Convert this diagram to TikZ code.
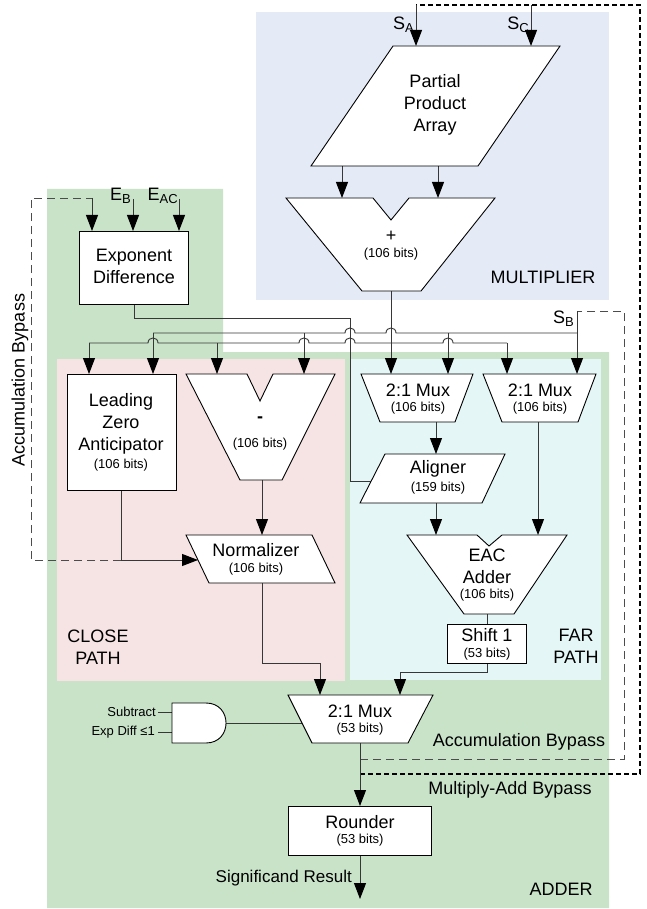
\documentclass[tikz,border=0pt]{standalone}
\usepackage{fontspec}
\setmainfont{Liberation Sans}
\usetikzlibrary{arrows.meta}
\definecolor{multbg}{RGB}{228,235,247}
\definecolor{addbg}{RGB}{201,227,201}
\definecolor{closebg}{RGB}{245,228,227}
\definecolor{farbg}{RGB}{228,246,246}
\definecolor{wirec}{RGB}{55,55,55}
% a wire that jumps over a crossing vertical wire at x=#1 on the line y=#2
\newcommand\hopat[2]{-- ({#1-5},#2) .. controls ({#1-5},{#2-6.7}) and ({#1+5},{#2-6.7}) .. ({#1+5},#2)}
\newcommand\subs[1]{\raisebox{-3pt}{\fontsize{13}{13}\selectfont #1}}

\begin{document}
\begin{tikzpicture}[x=1pt,y=-1pt,
  wire/.style={draw=wirec,line width=0.9pt},
  arr/.style={-{Triangle[length=16pt,width=12pt,color=black]}},
  blk/.style={draw=black,fill=white,line width=0.9pt,line join=miter},
  big/.style={font=\fontsize{18}{22}\selectfont,inner sep=0pt,align=center},
  sml/.style={font=\fontsize{13}{15}\selectfont,inner sep=0pt,align=center},
  accbyp/.style={draw=black!70,line width=0.9pt,dash pattern=on 8pt off 5pt},
  madbyp/.style={draw=black,line width=2pt,dash pattern=on 5pt off 3pt},
]
\useasboundingbox (0,0) rectangle (646,909);

% ---------- regions ----------
\fill[multbg] (256,12) rectangle (609,300);
\fill[addbg] (47,189) -- (223,189) -- (223,352) -- (609,352) -- (609,908) -- (47,908) -- cycle;
\fill[closebg] (57,359) rectangle (345,681);
\fill[farbg] (350,359) rectangle (601,680);

% ---------- ports ----------
\coordinate (sa-top) at (416,5);   \coordinate (sa-in) at (416,46);
\coordinate (sc-top) at (531,5);   \coordinate (sc-in) at (531,46);
\coordinate (ppa-o1) at (342,166); \coordinate (mul-i1) at (342,198);
\coordinate (ppa-o2) at (438,166); \coordinate (mul-i2) at (438,198);
\coordinate (mul-o) at (391,291);
\coordinate (muxa-i1) at (391,374); \coordinate (muxa-i2) at (448,374);
\coordinate (muxb-i1) at (507,374); \coordinate (muxb-i2) at (577,374);
\coordinate (muxa-o) at (436,422);  \coordinate (aln-i) at (436,454);
\coordinate (aln-o) at (436,503);   \coordinate (eac-i1) at (436,535);
\coordinate (muxb-o) at (538,422);  \coordinate (eac-i2) at (538,535);
\coordinate (aln-side) at (371,481);
\coordinate (eac-o) at (487,614);   \coordinate (sh-i) at (487,624);
\coordinate (sh-o) at (487,663);
\coordinate (mux53-i1) at (320,695); \coordinate (mux53-i2) at (400,695);
\coordinate (mux53-o) at (360,743);  \coordinate (mux53-side) at (302,723);
\coordinate (rnd-i) at (360,806);    \coordinate (rnd-o) at (360,855);
\coordinate (result) at (360,899);
\coordinate (ed-o) at (134,304);
\coordinate (ed-i0) at (92,231); \coordinate (ed-i1) at (133,231); \coordinate (ed-i2) at (179,231);
\coordinate (eb-src) at (133,199); \coordinate (eac-src) at (179,199);
\coordinate (lza-i1) at (89,374);  \coordinate (lza-i2) at (153,374);
\coordinate (lza-o) at (121,490);
\coordinate (sub-i1) at (217,374); \coordinate (sub-i2) at (304,374);
\coordinate (sub-o) at (262,480);
\coordinate (nrm-i) at (262,535);  \coordinate (nrm-side) at (198,560);
\coordinate (nrm-o) at (262,583);
\coordinate (lza-join) at (121,560);
\coordinate (and-o) at (226,723);
\coordinate (and-i1) at (172,712); \coordinate (and-i2) at (172,732);
\coordinate (sub-src) at (158,712); \coordinate (exp-src) at (158,732);
\coordinate (sb-corner) at (577,311);
\coordinate (byp-tap) at (360,759);
\coordinate (mad-tap) at (360,774);

% ---------- bypass loops ----------
\draw[madbyp] (mad-tap) -- (640,774) -- (640,5) -- (sa-top);
\draw[wire,arr] (sa-top) -- (sa-in);
\draw[wire,arr] (sc-top) -- (sc-in);
\draw[accbyp] (byp-tap) -- (624,759) -- (624,311) -- (sb-corner);
\draw[wire,arr] (sb-corner) -- (muxb-i2);
\draw[accbyp] (lza-join) -- (31,560) -- (31,198) -- (92,198);
\draw[wire,arr] (92,198) -- (ed-i0);

% ---------- buses ----------
\draw[wire] (ed-o) -- (134,318) -- (350,318) -- (350,481) -- (aln-side);
\draw[wire,arr] (mul-o) -- (muxa-i1);
\draw[wire] (153,333) \hopat{350}{333} \hopat{391}{333} -- (577,333);
\draw[wire,arr] (153,333) -- (lza-i2);
\draw[wire,arr] (304,333) -- (sub-i2);
\draw[wire,arr] (448,333) -- (muxa-i2);
\draw[wire] (89,343) \hopat{153}{343} \hopat{304}{343} \hopat{350}{343} \hopat{448}{343} -- (507,343);
\draw[wire,arr] (89,343) -- (lza-i1);
\draw[wire,arr] (217,343) -- (sub-i1);
\draw[wire,arr] (507,343) -- (muxb-i1);

% ---------- other connectors ----------
\draw[wire,arr] (ppa-o1) -- (mul-i1);
\draw[wire,arr] (ppa-o2) -- (mul-i2);
\draw[wire,arr] (eb-src) -- (ed-i1);
\draw[wire,arr] (eac-src) -- (ed-i2);
\draw[wire,arr] (muxa-o) -- (aln-i);
\draw[wire,arr] (aln-o) -- (eac-i1);
\draw[wire,arr] (muxb-o) -- (eac-i2);
\draw[wire] (eac-o) -- (sh-i);
\draw[wire,arr] (sh-o) -- (487,672) -- (400,672) -- (mux53-i2);
\draw[wire,arr] (sub-o) -- (nrm-i);
\draw[wire,arr] (nrm-o) -- (262,663) -- (320,663) -- (mux53-i1);
\draw[wire] (lza-o) -- (lza-join);
\draw[wire,arr] (lza-join) -- (nrm-side);
\draw[wire,arr] (mux53-o) -- (rnd-i);
\draw[wire,arr] (rnd-o) -- (result);
\draw[wire] (and-o) -- (mux53-side);
\draw[wire] (sub-src) -- (and-i1);
\draw[wire] (exp-src) -- (and-i2);

% ---------- blocks ----------
\draw[blk] (393,46) -- (560,46) -- (478,166) -- (311,166) -- cycle;
\draw[blk] (286,198) -- (373,198) -- (391,220) -- (409,198) -- (495,198) -- (421,291) -- (362,291) -- cycle;
\draw[blk] (79,231) rectangle (188,304);
\draw[blk] (67,374) rectangle (176,490);
\draw[blk] (186,374) -- (247,374) -- (260,401) -- (273,374) -- (335,374) -- (282,480) -- (240,480) -- cycle;
\draw[blk] (186,535) -- (312,535) -- (335,583) -- (209,583) -- cycle;
\draw[blk] (361,374) -- (473,374) -- (455,422) -- (380,422) -- cycle;
\draw[blk] (483,374) -- (596,374) -- (578,422) -- (502,422) -- cycle;
\draw[blk] (385,454) -- (505,454) -- (482,503) -- (360,503) -- cycle;
\draw[blk] (407,535) -- (477,535) -- (489,546) -- (502,535) -- (567,535) -- (514,614) -- (464,614) -- cycle;
\draw[blk] (447,624) rectangle (526,663);
\draw[blk] (288,695) -- (433,695) -- (408,743) -- (312,743) -- cycle;
\draw[blk] (288,806) rectangle (431,855);
\draw[blk] (172,703) -- (206,703) .. controls (232.7,703) and (232.7,743) .. (206,743) -- (172,743) -- cycle;

% ---------- texts ----------
\node[big] (ppatxt) at (435,105) {Partial\\Product\\Array};
\node[big] (mulop) at (391,236) {+};
\node[sml] (mulbits) at (391,254) {(106 bits)};
\node[big] (multlbl) at (543,277) {MULTIPLIER};
\node[big,anchor=east] (salbl) at (414,25) {S\subs{A}};
\node[big,anchor=east] (sclbl) at (529,25) {S\subs{C}};
\node[big,anchor=east] (eblbl) at (131,196) {E\subs{B}};
\node[big,anchor=east] (eaclbl) at (178,196) {E\subs{AC}};
\node[big,anchor=east] (sblbl) at (574,319) {S\subs{B}};
\node[big] (edtxt) at (134,266.5) {Exponent\\Difference};
\node[big] (lzatxt) at (121,424) {Leading\\Zero\\Anticipator};
\node[sml] (lzabits) at (121,465) {(106 bits)};
\node[big] (subop) at (260,420) {\textbf{-}};
\node[sml] (subbits) at (260,444) {(106 bits)};
\node[big] (nrmtxt) at (256,550) {Normalizer};
\node[sml] (nrmbits) at (256,569) {(106 bits)};
\node[big] (muxatxt) at (418,390) {2:1 Mux};
\node[sml] (muxabits) at (418,408) {(106 bits)};
\node[big] (muxbtxt) at (540,390) {2:1 Mux};
\node[sml] (muxbbits) at (540,408) {(106 bits)};
\node[big] (alntxt) at (438,469) {Aligner};
\node[sml] (alnbits) at (438,488) {(159 bits)};
\node[big] (eactxt) at (487,566) {EAC\\Adder};
\node[sml] (eacbits) at (487,595) {(106 bits)};
\node[big] (shtxt) at (487,635) {Shift 1};
\node[sml] (shbits) at (487,654) {(53 bits)};
\node[big] (mux53txt) at (360,711) {2:1 Mux};
\node[sml] (mux53bits) at (360,729) {(53 bits)};
\node[big] (rndtxt) at (360,822) {Rounder};
\node[sml] (rndbits) at (360,840) {(53 bits)};
\node[big,anchor=east,font=\fontsize{17}{20}\selectfont] (resultlbl) at (352,878) {Significand Result};
\node[big] (closelbl) at (98,647.5) {CLOSE\\PATH};
\node[big] (farlbl) at (576,646.5) {FAR\\PATH};
\node[big] (adderlbl) at (561,889) {ADDER};
\node[big] (accbyplbl) at (519,742) {Accumulation Bypass};
\node[big] (madbyplbl) at (510,790) {Multiply-Add Bypass};
\node[big,rotate=90] (accbypside) at (20,380) {Accumulation Bypass};
\node[sml,anchor=east] (sublbl) at (156,712) {Subtract};
\node[sml,anchor=east] (explbl) at (155,732) {Exp Diff ≤1};
\end{tikzpicture}
\end{document}
